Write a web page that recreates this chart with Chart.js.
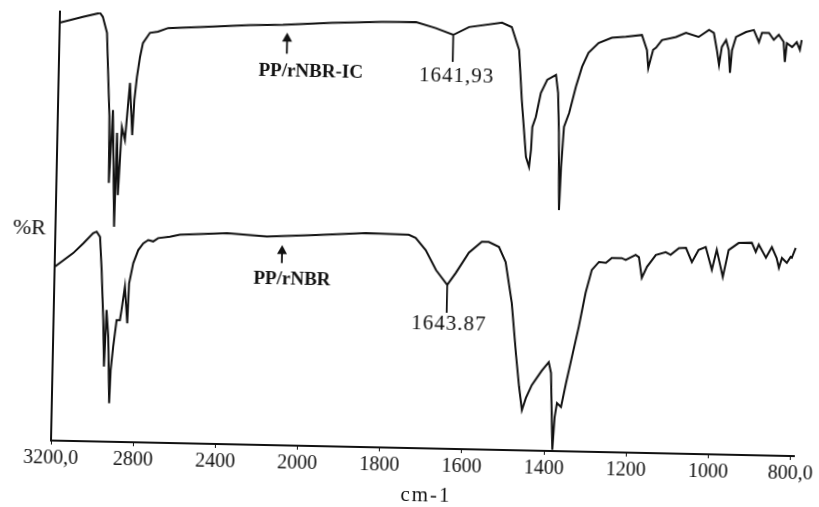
<!DOCTYPE html>
<html>
<head>
<meta charset="utf-8">
<script src="https://cdn.jsdelivr.net/npm/chart.js@4.4.1/dist/chart.umd.min.js"></script>
<style>
  html,body{margin:0;padding:0;background:#fff;overflow:hidden}
  #wrap{width:819px;height:507px}
  /* the scanned figure is slightly skewed */
  #c{transform:rotate(1.2deg);transform-origin:50% 50%}
</style>
</head>
<body>
<div id="wrap"><canvas id="c" width="819" height="507"></canvas></div>
<script>
// PP/rNBR-IC spectrum (upper trace), wavenumber cm-1 / %R
var icWave=[3200,3088,3005,2991,2969,2961,2949,2945,2932,2915,2910,2900,2887,2871,2852,2836,2829,2819,2806,2793,2760,2721,2672,2517,2274,2114,1938,1816,1733,1685,1642,1604,1524,1500,1481,1472,1459,1451,1447,1445,1437,1426,1411,1390,1384,1380,1376,1373,1368,1356,1341,1327,1312,1288,1256,1222,1183,1170,1166,1155,1148,1134,1100,1076,1045,1020,1008,1000,994,988,978,971,967,963,954,930,911,898,891,874,862,850,838,834,830,817,806,798,794];
var icR=[97.4,98.9,99.9,99.0,95.3,87.4,76.0,60.3,77.3,50.1,72.0,57.5,73.4,70.4,83.7,71.6,79.8,85.1,89.8,93.1,95.5,95.8,96.7,97.1,97.8,98.0,98.7,99.2,99.3,98.0,96.5,98.4,99.6,98.6,93.3,81.7,68.4,66.1,70.1,75.4,77.8,83.4,86.5,87.7,83.5,74.2,56.2,66.2,75.6,78.9,85.0,89.7,93.0,95.3,96.6,96.9,97.4,93.9,89.7,94.0,94.5,96.3,97.1,98.1,97.2,98.9,98.2,94.3,90.8,95.0,96.6,94.3,89.0,94.3,97.4,98.6,99.1,96.3,98.5,98.5,96.9,98.1,96.5,91.8,96.2,95.3,96.5,94.7,97.0];

// PP/rNBR spectrum (lower trace)
var nbrWave=[3200,3111,3063,3016,2999,2982,2971,2958,2950,2943,2932,2921,2917,2907,2893,2877,2870,2856,2841,2836,2818,2795,2771,2747,2723,2699,2642,2594,2364,2170,1966,1845,1740,1723,1698,1672,1644,1624,1593,1562,1545,1520,1503,1486,1473,1464,1456,1447,1433,1410,1393,1387,1380,1376,1371,1361,1350,1337,1322,1307,1293,1276,1259,1245,1221,1211,1187,1179,1171,1159,1138,1114,1102,1082,1065,1050,1034,1017,1001,990,974,961,937,905,895,888,870,856,844,838,831,819,810,807,798];
var nbrR=[40.5,43.8,46.1,48.5,48.9,47.7,40.0,28.3,17.5,30.7,24.5,9.0,16.7,22.2,28.4,28.4,30.8,36.2,27.7,37.0,41.7,44.8,46.4,47.2,46.9,47.7,48.1,48.6,49.2,48.6,49.2,49.9,49.7,49.0,46.2,41.6,38.2,41.0,45.8,48.4,48.4,47.3,43.8,34.3,22.2,14.8,9.4,12.2,15.3,18.6,20.7,18.2,0.3,7.9,11.2,10.3,15.9,22.0,29.0,37.0,42.4,44.3,44.1,45.3,45.3,44.9,46.1,45.6,40.8,43.4,46.2,46.9,46.3,47.9,48.0,44.7,47.6,48.3,43.0,47.7,41.4,47.7,49.4,49.5,47.4,49.1,46.1,48.6,46.1,43.8,46.1,45.0,46.4,46.2,48.5];

var tickWaves=[3200,2800,2400,2000,1800,1600,1400,1200,1000,800];
var tickLabels=['3200,0','2800','2400','2000','1800','1600','1400','1200','1000','800,0'];

var ink='#111';
var serif='"Liberation Serif", "DejaVu Serif", serif';

// spectrometer scale: above 2000 cm-1 the axis is compressed by 2
function toU(w){ return w>2000 ? 2000+(w-2000)/2 : w; }
function pts(ws,rs){ return ws.map(function(w,i){ return {x:toU(w),y:rs[i]}; }); }

var peakNotes=[
  {w:1642,from:96.4,to:90.2,text:'1641,93',tw:1632,tv:86.9},
  {w:1644,from:38.2,to:31.7,text:'1643.87',tw:1638,tv:29.1}
];
var arrowNotes=[
  {w:2092,tip:96.2,base:91.3,text:'PP/rNBR-IC',tw:1987,tv:87.2},
  {w:2095,tip:46.7,base:42.5,text:'PP/rNBR',tw:2044,tv:38.6}
];

var marks={
  id:'marks',
  afterDatasetsDraw:function(chart){
    var ctx=chart.ctx, xs=chart.scales.x, ys=chart.scales.y;
    function X(w){ return xs.getPixelForValue(toU(w)); }
    function Y(v){ return ys.getPixelForValue(v); }
    ctx.save();
    ctx.strokeStyle=ink; ctx.fillStyle=ink; ctx.lineWidth=1.8;
    ctx.textAlign='center'; ctx.textBaseline='middle';

    peakNotes.forEach(function(n){
      ctx.beginPath(); ctx.moveTo(X(n.w),Y(n.from)); ctx.lineTo(X(n.w),Y(n.to)); ctx.stroke();
      ctx.font='21px '+serif; ctx.letterSpacing='1px';
      ctx.fillText(n.text,X(n.tw),Y(n.tv));
    });

    arrowNotes.forEach(function(a){
      var x=X(a.w), yt=Y(a.tip), yb=Y(a.base);
      ctx.beginPath(); ctx.moveTo(x,yb); ctx.lineTo(x,yt+5); ctx.stroke();
      ctx.beginPath(); ctx.moveTo(x,yt); ctx.lineTo(x-5,yt+9); ctx.lineTo(x+5,yt+9); ctx.closePath(); ctx.fill();
      ctx.font='bold 19px '+serif; ctx.letterSpacing='0px';
      ctx.fillText(a.text,X(a.tw),Y(a.tv));
    });

    ctx.font='22px '+serif; ctx.letterSpacing='0px';
    ctx.fillText('%R',xs.left-26,Y(49.4));
    ctx.font='21px '+serif; ctx.letterSpacing='2px';
    ctx.fillText('cm-1',X(1685),Y(-11));
    ctx.restore();
  }
};

new Chart(document.getElementById('c').getContext('2d'),{
  type:'line',
  data:{datasets:[
    {label:'PP/rNBR-IC',data:pts(icWave,icR),borderColor:ink,borderWidth:2,pointRadius:0,tension:0,fill:false},
    {label:'PP/rNBR',data:pts(nbrWave,nbrR),borderColor:ink,borderWidth:2,pointRadius:0,tension:0,fill:false}
  ]},
  options:{
    responsive:false,animation:false,
    layout:{padding:{left:55,right:21,top:19,bottom:0}},
    plugins:{legend:{display:false},tooltip:{enabled:false}},
    scales:{
      x:{
        type:'linear',reverse:true,min:792,max:2600,
        afterBuildTicks:function(s){ s.ticks=tickWaves.map(function(w){ return {value:toU(w)}; }); },
        afterFit:function(s){ s.height=59; s.paddingLeft=0; s.paddingRight=0; },
        grid:{display:true,drawOnChartArea:false,drawTicks:true,tickLength:4,color:ink},
        border:{display:true,color:ink,width:2},
        ticks:{autoSkip:false,maxRotation:0,padding:2,color:ink,font:{family:serif,size:20},
          callback:function(v,i){ return tickLabels[i]; }}
      },
      y:{
        min:0,max:100,
        afterFit:function(s){ s.width=0; },
        grid:{display:false},
        border:{display:true,color:ink,width:2},
        ticks:{display:false}
      }
    }
  },
  plugins:[marks]
});
</script>
</body>
</html>
